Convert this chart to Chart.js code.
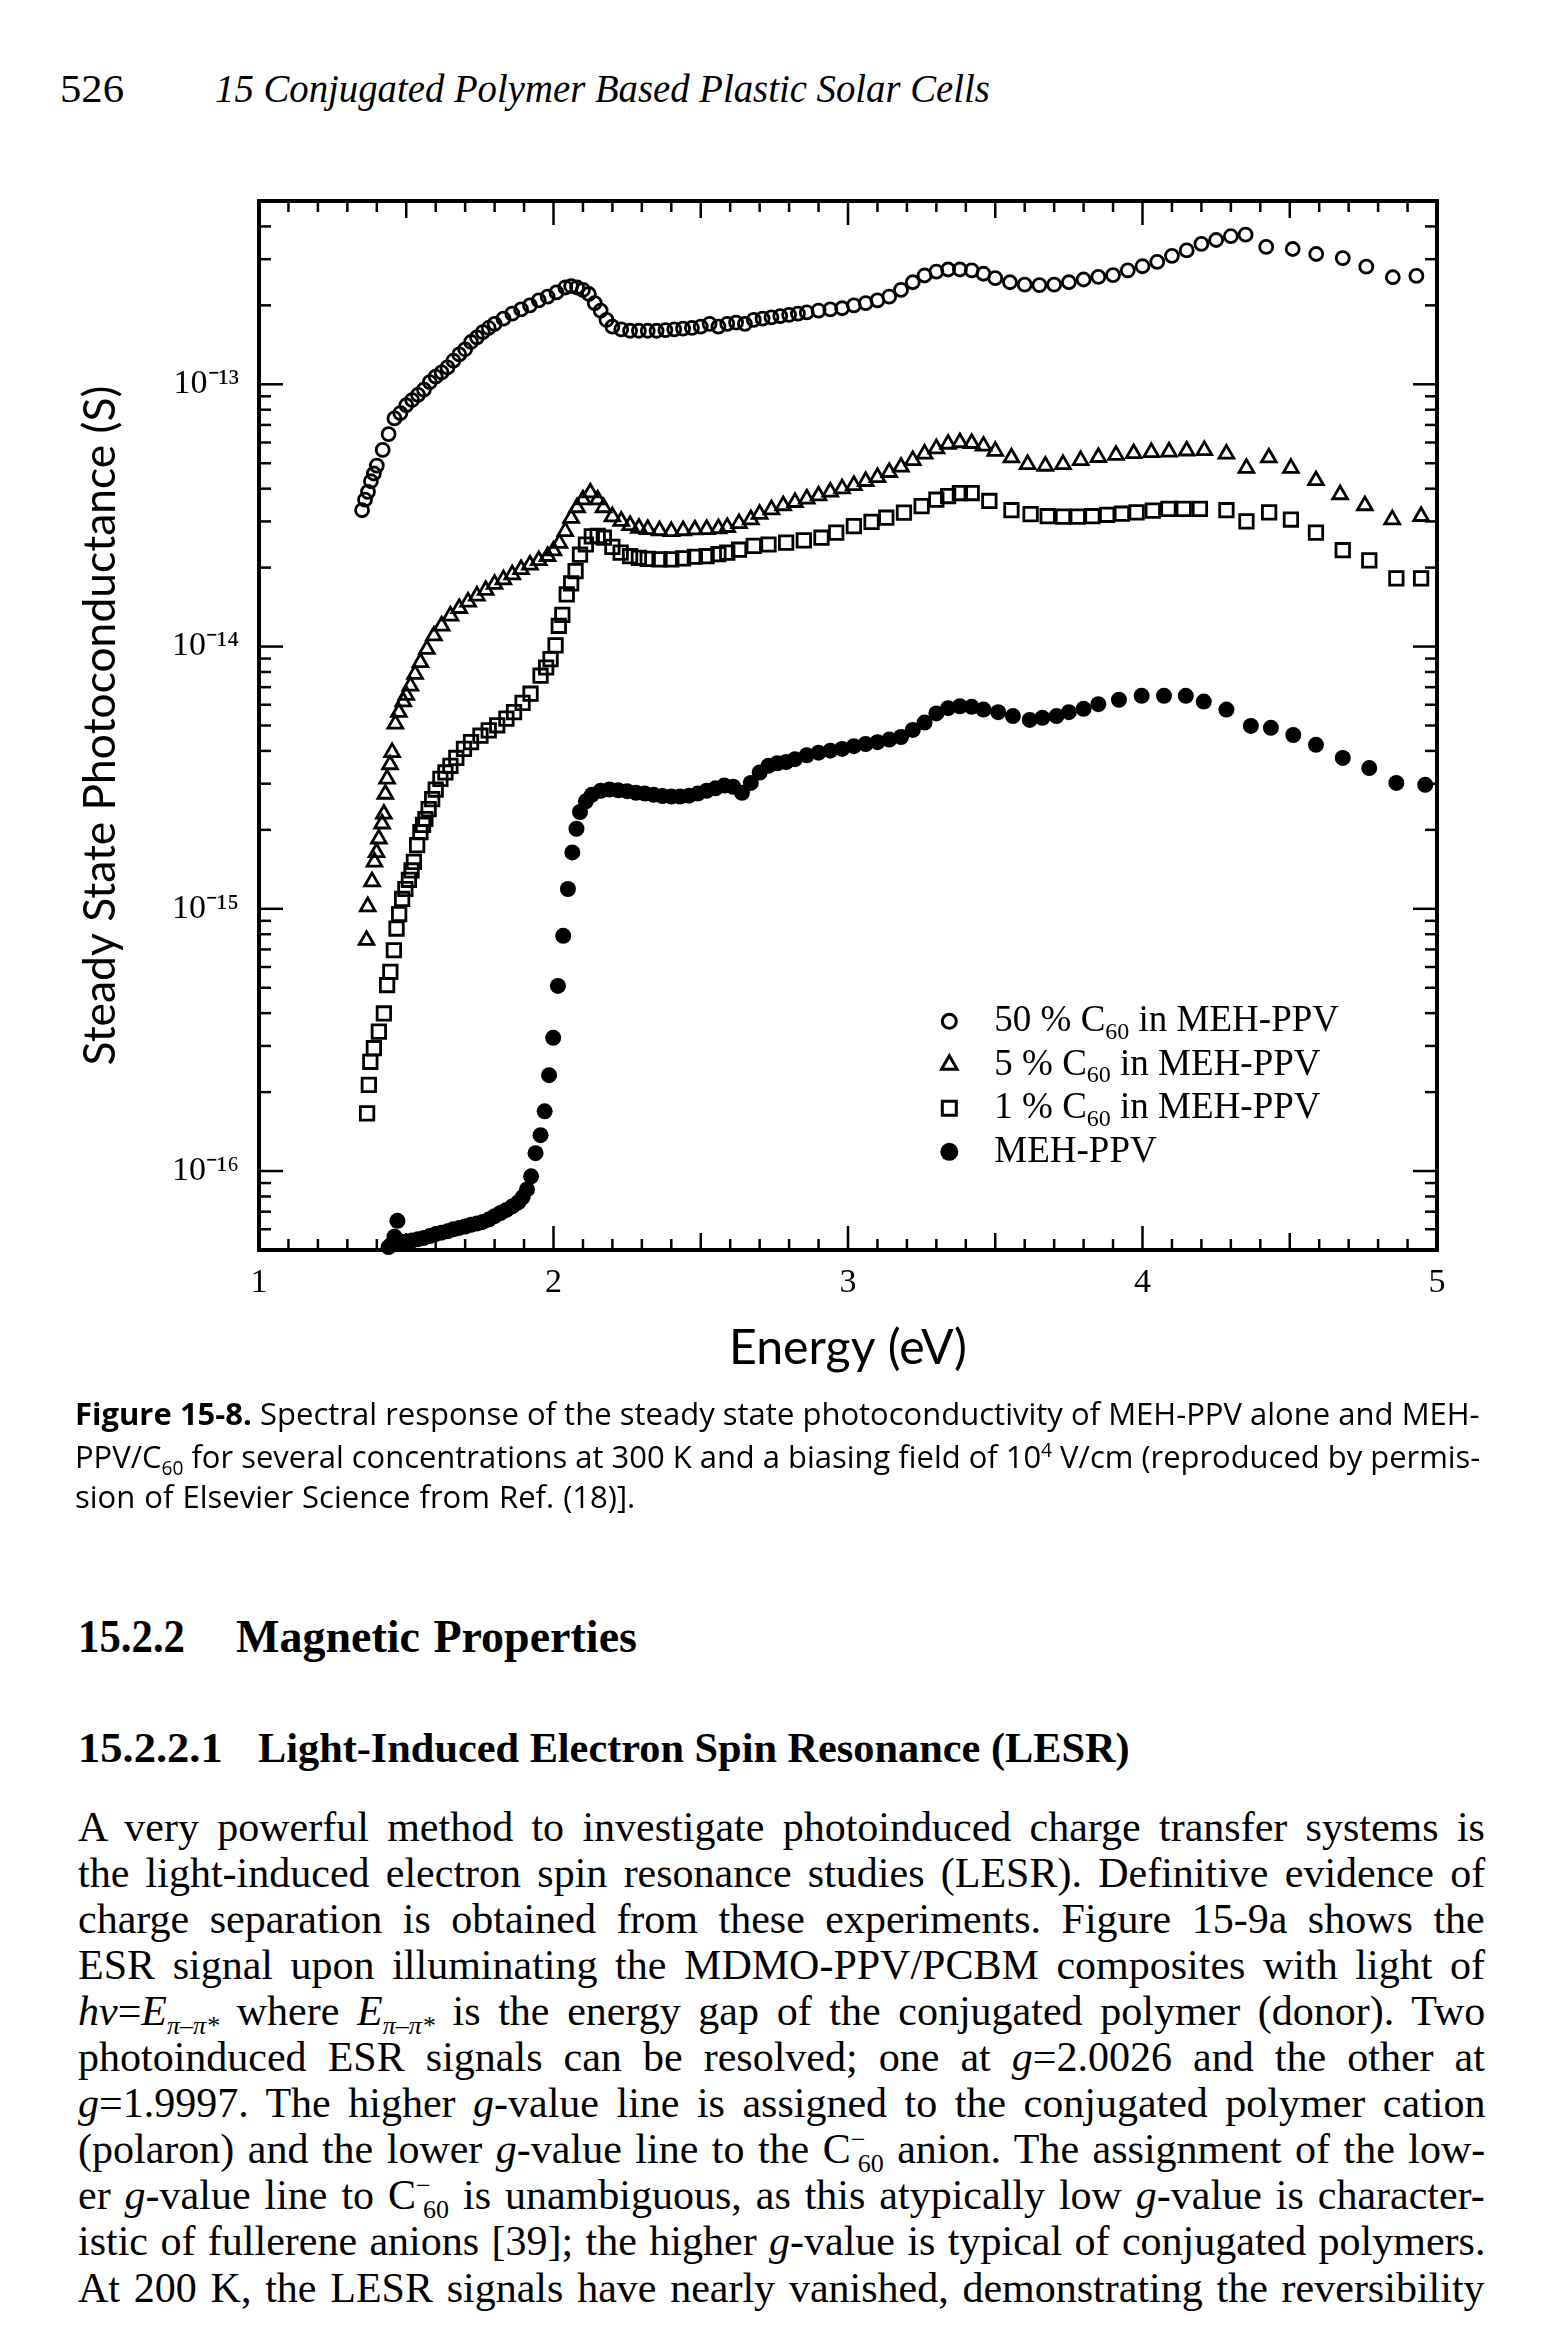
<!DOCTYPE html>
<html>
<head>
<meta charset="utf-8">
<script src="https://cdn.jsdelivr.net/npm/chart.js@4.4.1/dist/chart.umd.min.js"></script>
<style>
html, body { margin: 0; padding: 0; background: #fff; }
body { width: 1556px; height: 2346px; position: relative; overflow: hidden; color: #000; font-family: "Liberation Serif", serif; }
.abs { position: absolute; white-space: nowrap; line-height: 1; }
.fit { display: inline-block; transform-origin: left center; white-space: nowrap; }
#chartBox { position: absolute; left: 0; top: 150px; width: 1556px; height: 1250px; }
.cap { font-family: "Open Sans", sans-serif; font-size: 31px; }
.hd { font-weight: bold; }
.txt { font-size: 42px; }
sub, sup { font-size: 62%; line-height: 0; }
</style>
</head>
<body>

<div class="abs" style="left:60px;top:69px;font-size:40px"><span class="fit" data-w="64">526</span></div>
<div class="abs" style="left:215px;top:69px;font-size:40px;font-style:italic"><span class="fit" data-w="775">15 Conjugated Polymer Based Plastic Solar Cells</span></div>

<div id="chartBox"><canvas id="chart" width="1556" height="1250"></canvas></div>

<div class="abs cap" style="left:75px;top:1398px"><span class="fit" data-w="1405"><b>Figure 15-8.</b> Spectral response of the steady state photoconductivity of MEH-PPV alone and MEH-</span></div>
<div class="abs cap" style="left:75px;top:1441px"><span class="fit" data-w="1405">PPV/C<sub>60</sub> for several concentrations at 300 K and a biasing field of 10<sup>4</sup> V/cm (reproduced by permis-</span></div>
<div class="abs cap" style="left:75px;top:1481px"><span class="fit" data-w="560">sion of Elsevier Science from Ref. (18)].</span></div>

<div class="abs hd" style="left:78px;top:1614px;font-size:46px"><span class="fit" data-w="107">15.2.2</span></div>
<div class="abs hd" style="left:236px;top:1614px;font-size:46px"><span class="fit" data-w="401">Magnetic Properties</span></div>
<div class="abs hd" style="left:78px;top:1726px;font-size:43px"><span class="fit" data-w="145">15.2.2.1</span></div>
<div class="abs hd" style="left:258px;top:1726px;font-size:43px"><span class="fit" data-w="872">Light-Induced Electron Spin Resonance (LESR)</span></div>

<div class="abs txt" style="left:78px;top:1806px"><span class="fit" data-w="1407">A very powerful method to investigate photoinduced charge transfer systems is</span></div>
<div class="abs txt" style="left:78px;top:1852px"><span class="fit" data-w="1407">the light-induced electron spin resonance studies (LESR). Definitive evidence of</span></div>
<div class="abs txt" style="left:78px;top:1898px"><span class="fit" data-w="1407">charge separation is obtained from these experiments. Figure 15-9a shows the</span></div>
<div class="abs txt" style="left:78px;top:1944px"><span class="fit" data-w="1407">ESR signal upon illuminating the MDMO-PPV/PCBM composites with light of</span></div>
<div class="abs txt" style="left:78px;top:1990px"><span class="fit" data-w="1407"><i>hν</i>=<i>E</i><sub><i>π–π*</i></sub> where <i>E</i><sub><i>π–π*</i></sub> is the energy gap of the conjugated polymer (donor). Two</span></div>
<div class="abs txt" style="left:78px;top:2036px"><span class="fit" data-w="1407">photoinduced ESR signals can be resolved; one at <i>g</i>=2.0026 and the other at</span></div>
<div class="abs txt" style="left:78px;top:2082px"><span class="fit" data-w="1407"><i>g</i>=1.9997. The higher <i>g</i>-value line is assigned to the conjugated polymer cation</span></div>
<div class="abs txt" style="left:78px;top:2128px"><span class="fit" data-w="1407">(polaron) and the lower <i>g</i>-value line to the C<sup>−</sup><sub style="margin-left:-0.3em">60</sub> anion. The assignment of the low-</span></div>
<div class="abs txt" style="left:78px;top:2174px"><span class="fit" data-w="1407">er <i>g</i>-value line to C<sup>−</sup><sub style="margin-left:-0.3em">60</sub> is unambiguous, as this atypically low <i>g</i>-value is character-</span></div>
<div class="abs txt" style="left:78px;top:2220px"><span class="fit" data-w="1407">istic of fullerene anions [39]; the higher <i>g</i>-value is typical of conjugated polymers.</span></div>
<div class="abs txt" style="left:78px;top:2267px"><span class="fit" data-w="1407">At 200 K, the LESR signals have nearly vanished, demonstrating the reversibility</span></div>

<script>
// axis ticks
const xTickValues = [1, 2, 3, 4, 5];
const yTickValues = [1e-16, 1e-15, 1e-14, 1e-13];
const yTickLabels = ['10⁻¹⁶', '10⁻¹⁵', '10⁻¹⁴', '10⁻¹³'];
const seriesLabels = ['50 % C60 in MEH-PPV', '5 % C60 in MEH-PPV', '1 % C60 in MEH-PPV', 'MEH-PPV'];

// 50 % C60 in MEH-PPV (open circles)
const c50Energy = [1.35,1.36,1.37,1.38,1.39,1.40,1.42,1.44,1.46,1.48,1.50,1.52,1.54,1.56,1.58,1.60,1.62,1.64,1.66,1.68,1.70,1.72,1.74,1.76,1.78,1.80,1.83,1.86,1.89,1.92,1.95,1.98,2.01,2.04,2.06,2.08,2.10,2.12,2.14,2.16,2.18,2.20,2.23,2.26,2.29,2.32,2.35,2.38,2.41,2.44,2.47,2.50,2.53,2.56,2.59,2.62,2.65,2.68,2.71,2.74,2.77,2.80,2.83,2.86,2.90,2.94,2.98,3.02,3.06,3.10,3.14,3.18,3.22,3.26,3.30,3.34,3.38,3.42,3.46,3.50,3.55,3.60,3.65,3.70,3.75,3.80,3.85,3.90,3.95,4.00,4.05,4.10,4.15,4.20,4.25,4.30,4.35,4.42,4.51,4.59,4.68,4.76,4.85,4.93];
const c50S = [3.31e-14,3.63e-14,3.89e-14,4.27e-14,4.57e-14,4.90e-14,5.62e-14,6.46e-14,7.41e-14,7.76e-14,8.32e-14,8.71e-14,9.12e-14,9.55e-14,1.02e-13,1.07e-13,1.11e-13,1.16e-13,1.23e-13,1.30e-13,1.36e-13,1.45e-13,1.51e-13,1.58e-13,1.64e-13,1.70e-13,1.78e-13,1.86e-13,1.93e-13,2.00e-13,2.09e-13,2.16e-13,2.24e-13,2.34e-13,2.37e-13,2.34e-13,2.29e-13,2.21e-13,2.04e-13,1.91e-13,1.76e-13,1.66e-13,1.62e-13,1.60e-13,1.60e-13,1.60e-13,1.60e-13,1.61e-13,1.62e-13,1.63e-13,1.64e-13,1.66e-13,1.70e-13,1.66e-13,1.70e-13,1.72e-13,1.70e-13,1.76e-13,1.78e-13,1.80e-13,1.82e-13,1.84e-13,1.86e-13,1.88e-13,1.91e-13,1.93e-13,1.95e-13,2.00e-13,2.04e-13,2.09e-13,2.16e-13,2.29e-13,2.45e-13,2.60e-13,2.69e-13,2.74e-13,2.74e-13,2.72e-13,2.64e-13,2.54e-13,2.45e-13,2.40e-13,2.39e-13,2.40e-13,2.45e-13,2.51e-13,2.57e-13,2.61e-13,2.72e-13,2.82e-13,2.93e-13,3.09e-13,3.24e-13,3.43e-13,3.55e-13,3.67e-13,3.72e-13,3.34e-13,3.28e-13,3.14e-13,3.03e-13,2.81e-13,2.56e-13,2.59e-13];

// 5 % C60 in MEH-PPV (open triangles)
const c5Energy = [1.365,1.369,1.384,1.392,1.399,1.407,1.418,1.424,1.429,1.435,1.445,1.452,1.463,1.475,1.49,1.50,1.514,1.53,1.548,1.57,1.594,1.62,1.65,1.68,1.71,1.74,1.77,1.80,1.83,1.86,1.89,1.92,1.95,1.98,2.00,2.02,2.04,2.06,2.08,2.10,2.125,2.15,2.17,2.20,2.23,2.26,2.29,2.32,2.36,2.40,2.44,2.48,2.52,2.56,2.59,2.63,2.67,2.70,2.74,2.78,2.82,2.86,2.90,2.94,2.98,3.02,3.06,3.10,3.14,3.18,3.22,3.26,3.30,3.34,3.38,3.42,3.46,3.50,3.555,3.61,3.67,3.73,3.79,3.85,3.91,3.97,4.03,4.09,4.15,4.21,4.285,4.353,4.429,4.504,4.589,4.671,4.755,4.848,4.946];
const c5S = [7.59e-16,1.02e-15,1.27e-15,1.51e-15,1.64e-15,1.85e-15,2.11e-15,2.30e-15,2.74e-15,3.13e-15,3.55e-15,3.95e-15,5.07e-15,5.62e-15,6.17e-15,6.53e-15,7.08e-15,7.85e-15,8.71e-15,9.77e-15,1.10e-14,1.20e-14,1.31e-14,1.40e-14,1.48e-14,1.56e-14,1.64e-14,1.73e-14,1.80e-14,1.88e-14,1.97e-14,2.05e-14,2.13e-14,2.21e-14,2.32e-14,2.48e-14,2.75e-14,3.09e-14,3.39e-14,3.63e-14,3.86e-14,3.63e-14,3.39e-14,3.13e-14,3.01e-14,2.90e-14,2.83e-14,2.80e-14,2.77e-14,2.75e-14,2.77e-14,2.79e-14,2.80e-14,2.82e-14,2.85e-14,2.95e-14,3.05e-14,3.20e-14,3.33e-14,3.45e-14,3.55e-14,3.66e-14,3.76e-14,3.89e-14,4.00e-14,4.12e-14,4.27e-14,4.42e-14,4.62e-14,4.84e-14,5.13e-14,5.43e-14,5.69e-14,5.92e-14,6.00e-14,5.96e-14,5.82e-14,5.56e-14,5.25e-14,4.95e-14,4.88e-14,4.95e-14,5.13e-14,5.27e-14,5.37e-14,5.45e-14,5.50e-14,5.53e-14,5.58e-14,5.60e-14,5.43e-14,4.79e-14,5.25e-14,4.79e-14,4.30e-14,3.80e-14,3.45e-14,3.05e-14,3.14e-14];

// 1 % C60 in MEH-PPV (open squares)
const c1Energy = [1.367,1.373,1.378,1.39,1.407,1.424,1.435,1.446,1.458,1.467,1.476,1.486,1.497,1.509,1.518,1.526,1.537,1.548,1.557,1.565,1.576,1.588,1.60,1.616,1.633,1.65,1.67,1.696,1.72,1.752,1.78,1.809,1.84,1.866,1.895,1.922,1.956,1.975,1.99,2.007,2.018,2.03,2.045,2.06,2.075,2.09,2.11,2.13,2.15,2.171,2.20,2.228,2.26,2.29,2.32,2.36,2.40,2.44,2.48,2.52,2.56,2.59,2.63,2.68,2.73,2.79,2.85,2.91,2.96,3.02,3.08,3.13,3.19,3.25,3.30,3.34,3.38,3.42,3.48,3.555,3.62,3.678,3.73,3.78,3.83,3.88,3.93,3.98,4.035,4.088,4.14,4.195,4.285,4.353,4.43,4.504,4.589,4.68,4.77,4.862,4.946];
const c1S = [1.66e-16,2.13e-16,2.61e-16,2.94e-16,3.40e-16,3.99e-16,5.12e-16,5.75e-16,6.95e-16,8.41e-16,9.55e-16,1.09e-15,1.19e-15,1.29e-15,1.40e-15,1.51e-15,1.75e-15,1.96e-15,2.09e-15,2.20e-15,2.40e-15,2.62e-15,2.85e-15,3.13e-15,3.31e-15,3.51e-15,3.76e-15,4.07e-15,4.32e-15,4.57e-15,4.79e-15,5.01e-15,5.31e-15,5.62e-15,6.10e-15,6.61e-15,7.74e-15,8.32e-15,8.95e-15,1.01e-14,1.20e-14,1.32e-14,1.58e-14,1.74e-14,1.94e-14,2.24e-14,2.45e-14,2.63e-14,2.64e-14,2.60e-14,2.40e-14,2.28e-14,2.21e-14,2.18e-14,2.16e-14,2.15e-14,2.15e-14,2.17e-14,2.20e-14,2.21e-14,2.25e-14,2.28e-14,2.34e-14,2.42e-14,2.45e-14,2.49e-14,2.54e-14,2.60e-14,2.72e-14,2.88e-14,2.99e-14,3.10e-14,3.24e-14,3.43e-14,3.63e-14,3.75e-14,3.85e-14,3.85e-14,3.59e-14,3.31e-14,3.20e-14,3.14e-14,3.13e-14,3.13e-14,3.14e-14,3.18e-14,3.21e-14,3.25e-14,3.30e-14,3.35e-14,3.35e-14,3.35e-14,3.31e-14,3.00e-14,3.25e-14,3.05e-14,2.72e-14,2.33e-14,2.13e-14,1.82e-14,1.82e-14];

// MEH-PPV alone (filled circles)
const mehEnergy = [1.44,1.45,1.46,1.47,1.48,1.50,1.52,1.54,1.56,1.58,1.60,1.62,1.64,1.66,1.68,1.70,1.72,1.74,1.76,1.78,1.80,1.82,1.84,1.86,1.88,1.895,1.91,1.924,1.939,1.956,1.97,1.985,1.999,2.015,2.033,2.049,2.064,2.078,2.09,2.11,2.13,2.16,2.19,2.22,2.25,2.28,2.31,2.34,2.37,2.40,2.43,2.46,2.49,2.52,2.55,2.58,2.61,2.64,2.67,2.70,2.73,2.76,2.79,2.82,2.86,2.90,2.94,2.98,3.02,3.06,3.10,3.14,3.18,3.22,3.26,3.30,3.34,3.38,3.42,3.46,3.51,3.56,3.617,3.66,3.708,3.75,3.80,3.85,3.92,3.997,4.073,4.147,4.208,4.285,4.368,4.436,4.512,4.589,4.68,4.77,4.862,4.96];
const mehS = [5.13e-17,5.25e-17,5.62e-17,6.46e-17,5.37e-17,5.37e-17,5.43e-17,5.50e-17,5.56e-17,5.65e-17,5.75e-17,5.82e-17,5.89e-17,6.00e-17,6.07e-17,6.14e-17,6.24e-17,6.31e-17,6.40e-17,6.53e-17,6.73e-17,6.92e-17,7.11e-17,7.33e-17,7.59e-17,7.94e-17,8.51e-17,9.55e-17,1.17e-16,1.37e-16,1.69e-16,2.32e-16,3.22e-16,5.08e-16,7.89e-16,1.19e-15,1.64e-15,2.02e-15,2.34e-15,2.57e-15,2.72e-15,2.82e-15,2.85e-15,2.83e-15,2.81e-15,2.77e-15,2.75e-15,2.72e-15,2.69e-15,2.68e-15,2.68e-15,2.70e-15,2.75e-15,2.82e-15,2.88e-15,2.95e-15,2.92e-15,2.77e-15,3.02e-15,3.31e-15,3.51e-15,3.59e-15,3.63e-15,3.72e-15,3.85e-15,3.94e-15,4.01e-15,4.07e-15,4.17e-15,4.25e-15,4.32e-15,4.42e-15,4.52e-15,4.81e-15,5.13e-15,5.56e-15,5.82e-15,5.92e-15,5.89e-15,5.75e-15,5.62e-15,5.43e-15,5.25e-15,5.35e-15,5.43e-15,5.62e-15,5.79e-15,6.03e-15,6.27e-15,6.49e-15,6.49e-15,6.49e-15,6.17e-15,5.75e-15,4.98e-15,4.90e-15,4.60e-15,4.22e-15,3.76e-15,3.44e-15,3.02e-15,2.97e-15];

const toPoints = (xs, ys) => xs.map((x, i) => ({ x: x, y: ys[i] }));

// font size that makes a text as wide as the reference
function sizeFor(text, family, target) {
    const c = document.createElement('canvas').getContext('2d');
    c.font = '100px ' + family;
    return 100 * target / c.measureText(text).width;
}

const yTitle = 'Steady State Photoconductance (S)';
const xTitle = 'Energy (eV)';
const yTitleSize = sizeFor(yTitle, 'Lato', 680);
const xTitleSize = sizeFor(xTitle, 'Lato', 238);
const padLeft = 101 - yTitleSize / 2;

// inward ticks on all four sides + frame
const frameTicks = {
    id: 'frameTicks',
    afterDatasetsDraw(chart) {
        const { ctx, chartArea: a, scales: { x, y } } = chart;
        const seg = (x1, y1, x2, y2) => { ctx.beginPath(); ctx.moveTo(x1, y1); ctx.lineTo(x2, y2); ctx.stroke(); };
        ctx.save();
        ctx.strokeStyle = '#000';
        ctx.lineWidth = 2.5;
        for (let i = 0; i <= 40; i++) {
            const px = x.getPixelForValue(x.min + i / 10);
            const len = i % 10 === 0 ? 24 : (i % 5 === 0 ? 17 : 11);
            seg(px, a.bottom, px, a.bottom - len);
            seg(px, a.top, px, a.top + len);
        }
        for (let e = -17; e <= -13; e++) {
            for (let m = 1; m <= 9; m++) {
                const v = m * Math.pow(10, e);
                if (v < y.min * 0.999 || v > y.max * 1.001) continue;
                const py = y.getPixelForValue(v);
                const len = m === 1 ? 24 : 12;
                seg(a.left, py, a.left + len, py);
                seg(a.right, py, a.right - len, py);
            }
        }
        ctx.lineWidth = 4;
        ctx.strokeRect(a.left, a.top, a.right - a.left, a.bottom - a.top);
        ctx.restore();
    }
};

// legend inside the plot, with subscript 60
const innerLegend = {
    id: 'innerLegend',
    afterDraw(chart) {
        const { ctx, chartArea: a } = chart;
        const x0 = a.left + 0.586 * (a.right - a.left);
        const y0 = a.top + 0.782 * (a.bottom - a.top);
        ctx.save();
        chart.data.datasets.forEach((ds, i) => {
            const y = y0 + i * 43.5;
            ctx.lineWidth = 3;
            ctx.strokeStyle = '#000';
            ctx.fillStyle = '#000';
            ctx.beginPath();
            if (ds.pointStyle === 'triangle') {
                ctx.moveTo(x0, y - 9); ctx.lineTo(x0 + 7.8, y + 4.5); ctx.lineTo(x0 - 7.8, y + 4.5); ctx.closePath(); ctx.stroke();
            } else if (ds.pointStyle === 'rect') {
                ctx.rect(x0 - 7, y - 7, 14, 14); ctx.stroke();
            } else if (ds.backgroundColor === '#000') {
                ctx.arc(x0, y, 9, 0, Math.PI * 2); ctx.fill();
            } else {
                ctx.arc(x0, y, 7, 0, Math.PI * 2); ctx.stroke();
            }
            let tx = x0 + 45;
            ctx.textBaseline = 'middle';
            const parts = ds.label.split('C60');
            ctx.font = '37px "Liberation Serif"';
            ctx.fillText(parts[0], tx, y);
            tx += ctx.measureText(parts[0]).width;
            if (parts.length > 1) {
                ctx.fillText('C', tx, y);
                tx += ctx.measureText('C').width;
                ctx.font = '24px "Liberation Serif"';
                ctx.fillText('60', tx, y + 11);
                tx += ctx.measureText('60').width;
                ctx.font = '37px "Liberation Serif"';
                ctx.fillText(parts[1], tx, y);
            }
        });
        ctx.restore();
    }
};

const openMarker = { borderColor: '#000', backgroundColor: 'rgba(0,0,0,0)', borderWidth: 2.8 };

new Chart(document.getElementById('chart'), {
    type: 'scatter',
    data: {
        datasets: [
            { label: seriesLabels[0], data: toPoints(c50Energy, c50S), pointStyle: 'circle', pointRadius: 6.5, ...openMarker },
            { label: seriesLabels[1], data: toPoints(c5Energy, c5S), pointStyle: 'triangle', pointRadius: 8.5, ...openMarker },
            { label: seriesLabels[2], data: toPoints(c1Energy, c1S), pointStyle: 'rect', pointRadius: 9.5, ...openMarker },
            { label: seriesLabels[3], data: toPoints(mehEnergy, mehS), pointStyle: 'circle', pointRadius: 8, borderWidth: 0, borderColor: '#000', backgroundColor: '#000' }
        ]
    },
    options: {
        responsive: false,
        animation: false,
        devicePixelRatio: 1,
        events: [],
        clip: false,
        layout: { padding: { left: padLeft, top: 51, right: 119, bottom: 0 } },
        plugins: { legend: { display: false }, tooltip: { enabled: false } },
        scales: {
            x: {
                type: 'linear',
                min: 1,
                max: 5,
                afterBuildTicks: s => { s.ticks = xTickValues.map(v => ({ value: v })); },
                afterFit: s => { s.height = 150; },
                grid: { display: false, drawTicks: false },
                border: { display: false },
                ticks: { color: '#000', padding: 13, font: { family: 'Liberation Serif', size: 34 } },
                title: {
                    display: true,
                    text: xTitle,
                    color: '#000',
                    font: { family: 'Lato', size: xTitleSize, lineHeight: 1 },
                    padding: { top: 0, bottom: 52 - xTitleSize / 2 }
                }
            },
            y: {
                type: 'logarithmic',
                min: 5e-17,
                max: 5e-13,
                afterBuildTicks: s => { s.ticks = yTickValues.map(v => ({ value: v })); },
                afterFit: s => { s.width = 259 - padLeft; },
                grid: { display: false, drawTicks: false },
                border: { display: false },
                ticks: {
                    color: '#000',
                    padding: 20,
                    autoSkip: false,
                    font: { family: 'Liberation Serif', size: 34 },
                    callback: (v, i) => yTickLabels[i]
                },
                title: {
                    display: true,
                    text: yTitle,
                    color: '#000',
                    font: { family: 'Lato', size: yTitleSize, lineHeight: 1 },
                    padding: { top: 0, bottom: 0 }
                }
            }
        }
    },
    plugins: [frameTicks, innerLegend]
});

// justify each printed line to the width it has on the page
function fitLines() {
    document.querySelectorAll('.fit').forEach(el => {
        el.style.wordSpacing = '0px';
        el.style.transform = 'none';
        const target = +el.dataset.w;
        const w = el.offsetWidth;
        const gaps = (el.textContent.match(/ /g) || []).length;
        if (w > target || !gaps) {
            el.style.transform = 'scaleX(' + (target / w) + ')';
        } else {
            el.style.wordSpacing = ((target - w) / gaps) + 'px';
        }
    });
}
fitLines();
if (document.fonts) document.fonts.ready.then(fitLines);
</script>
</body>
</html>
